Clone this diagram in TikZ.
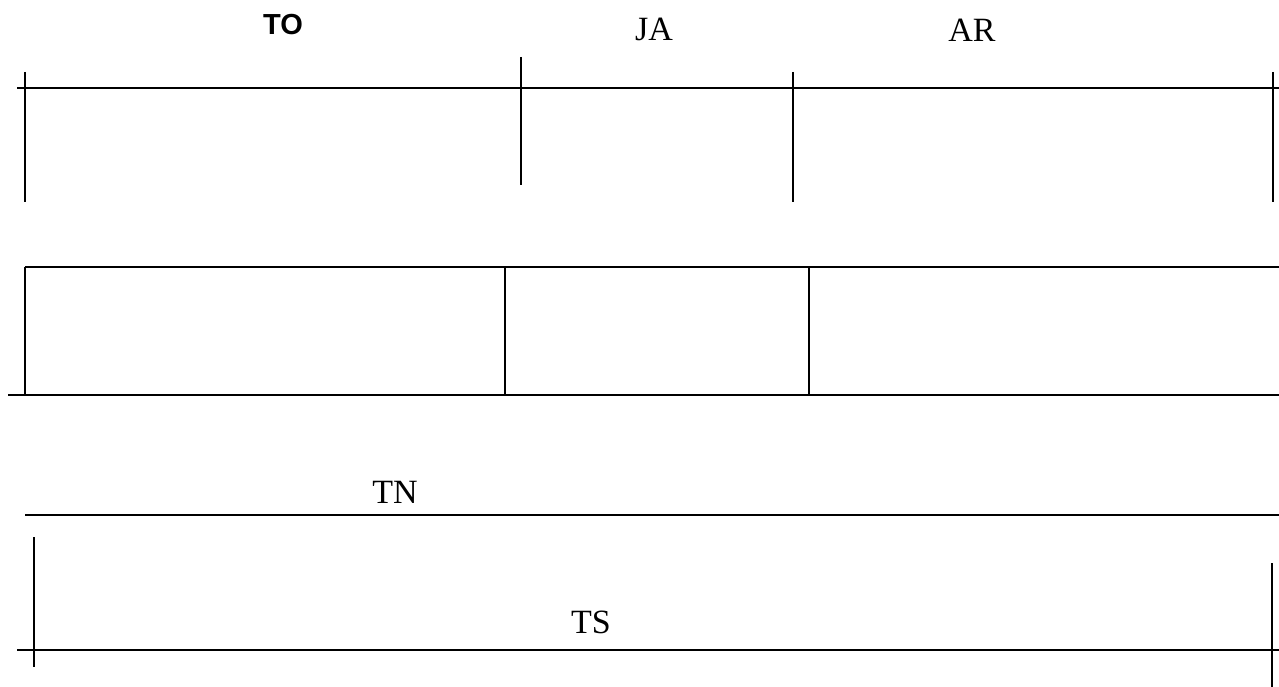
\documentclass[tikz,border=0pt]{standalone}
\usepackage{fontspec}
\setmainfont{Liberation Serif}
\newfontfamily\arialfont{Liberation Sans}
\usetikzlibrary{positioning}

\begin{document}
\begin{tikzpicture}[x=1pt, y=-1pt]

                \useasboundingbox (0, 0) rectangle (1279, 687);

                % Styles for the bars and the labels
                \tikzset{
                    bar/.style={line width=1.8pt, black},
                    lbl/.style={inner sep=0pt,
                        font=\fontsize{34}{40}\selectfont},
                    boldlbl/.style={inner sep=0pt,
                        font=\arialfont\bfseries\fontsize{29}{34}\selectfont}
                }

                % Labels
                \node[boldlbl] (TO) at (283, 25) {TO};
                \node[lbl] (JA) at (654, 29) {JA};
                \node[lbl] (AR) at (972, 30) {AR};
                \node[lbl] (TN) at (395, 492) {TN};
                \node[lbl] (TS) at (591, 622) {TS};

                % Top strip with its ticks
                \coordinate (top0) at (17, 88);
                \coordinate (top1) at (1279, 88);
                \coordinate (ta1) at (25, 72);
                \coordinate (ta2) at (25, 202);
                \coordinate (tb1) at (521, 57);
                \coordinate (tb2) at (521, 185);
                \coordinate (tc1) at (793, 72);
                \coordinate (tc2) at (793, 202);
                \coordinate (td1) at (1273, 72);
                \coordinate (td2) at (1273, 202);

                % Middle strip
                \coordinate (mid0) at (25, 267);
                \coordinate (mid1) at (1279, 267);
                \coordinate (bot0) at (8, 395);
                \coordinate (bot1) at (1279, 395);
                \coordinate (ma1) at (25, 267);
                \coordinate (ma2) at (25, 395);
                \coordinate (mb1) at (505, 267);
                \coordinate (mb2) at (505, 395);
                \coordinate (mc1) at (809, 267);
                \coordinate (mc2) at (809, 395);

                % Lower strip
                \coordinate (tn0) at (25, 515);
                \coordinate (tn1) at (1279, 515);
                \coordinate (ts0) at (17, 650);
                \coordinate (ts1) at (1279, 650);
                \coordinate (la1) at (34, 537);
                \coordinate (la2) at (34, 667);
                \coordinate (lb1) at (1272, 563);
                \coordinate (lb2) at (1272, 687);

                \begin{scope}[bar]
                    \draw (top0) -- (top1);
                    \draw (ta1) -- (ta2);
                    \draw (tb1) -- (tb2);
                    \draw (tc1) -- (tc2);
                    \draw (td1) -- (td2);
                    \draw (mid0) -- (mid1);
                    \draw (bot0) -- (bot1);
                    \draw (ma1) -- (ma2);
                    \draw (mb1) -- (mb2);
                    \draw (mc1) -- (mc2);
                    \draw (tn0) -- (tn1);
                    \draw (ts0) -- (ts1);
                    \draw (la1) -- (la2);
                    \draw (lb1) -- (lb2);
                \end{scope}

                \end{tikzpicture}
\end{document}
